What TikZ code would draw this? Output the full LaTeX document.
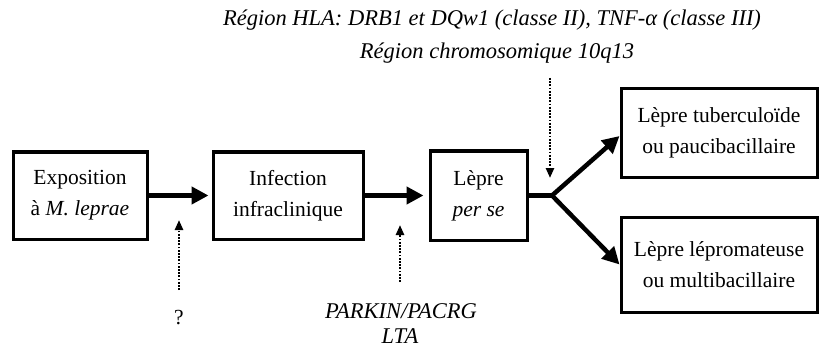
\documentclass[tikz,border=0pt]{standalone}
\usepackage{fontspec}
\setmainfont{Liberation Serif}
\usetikzlibrary{arrows.meta}
\begin{document}
\begin{tikzpicture}[x=1pt,y=-1pt,
  box/.style={draw,line width=3pt,inner sep=0pt,align=center,
    font=\fontsize{21.5}{31}\selectfont},
  mainarrow/.style={line width=4.5pt,-{Triangle[length=17pt,width=17pt]}},
  branch/.style={line width=4.5pt},
  dotarrow/.style={line width=2.4pt,dash pattern=on 1.8pt off 1.4pt,-{Triangle[length=10pt,width=8pt]}},
  lbl/.style={font=\fontsize{22.5}{27}\selectfont\itshape,inner sep=0pt}]
\useasboundingbox (0,0) rectangle (819,350);
\node[box,minimum width=134pt,minimum height=87pt] (b1) at (80,195.5) {Exposition\\à \textit{M. leprae}};
\node[box,minimum width=150pt,minimum height=87pt] (b2) at (288,195.5) {Infection\\infraclinique};
\node[box,minimum width=97pt,minimum height=89pt] (b3) at (478.5,195.5) {Lèpre\\\textit{per se}};
\node[box,minimum width=196pt,minimum height=88pt] (b4) at (719,133) {Lèpre tuberculoïde\\ou paucibacillaire};
\node[box,minimum width=196pt,minimum height=95pt] (b5) at (719,264.5) {Lèpre lépromateuse\\ou multibacillaire};
\coordinate (j) at (552,195.5);
\draw[mainarrow,shorten >=3pt] (b1.east) -- (b2.west);
\draw[mainarrow,shorten >=5pt] (b2.east) -- (b3.west);
\draw[branch,line join=miter] (b3.east) -- (j);
\draw[mainarrow] (j) -- ([yshift=-3pt]b4.west);
\draw[mainarrow] (j) -- (b5.west);
% dotted influence arrows
\coordinate (d1s) at (179,290);
\coordinate (d1e) at (179,220);
\draw[dotarrow] (d1s) -- (d1e);
\node[font=\fontsize{21.5}{27}\selectfont,inner sep=0pt] (q) at (179,318) {?};
\coordinate (d2s) at (400,282);
\coordinate (d2e) at (400,225);
\draw[dotarrow] (d2s) -- (d2e);
\node[lbl] (g1) at (401,311) {PARKIN/PACRG};
\node[lbl] (g2) at (400,336) {LTA};
\coordinate (d3s) at (550,78);
\coordinate (d3e) at (550,178);
\draw[dotarrow] (d3s) -- (d3e);
\node[lbl] (t1) at (492,20) {Région HLA: DRB1 et DQw1 (classe II), TNF-α (classe III)};
\node[lbl] (t2) at (497,53) {Région chromosomique 10q13};
\end{tikzpicture}
\end{document}
